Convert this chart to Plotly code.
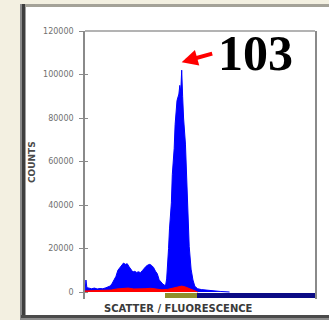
import plotly.graph_objects as go

# Histogram of channel counts (scatter / fluorescence)
blue_channels = [0, 1, 2, 4, 7, 10, 13, 16, 19, 22, 25, 27, 29, 31, 33, 35, 37, 39, 41, 43,
                 45, 47, 49, 51, 53, 55, 57, 59, 61, 63, 65, 67, 69, 71, 73, 75, 77, 79, 81, 83,
                 85, 86, 87, 88, 89, 90, 92, 93, 95, 96, 98, 100, 101, 102, 103, 104, 105, 107,
                 108, 110, 111, 113, 115, 117, 120, 124, 128, 135, 144, 154]
blue_counts = [0, 5500, 2000, 1700, 1500, 1800, 1400, 1600, 1500, 1900, 2300, 2800, 4000, 5600,
               7200, 10000, 11200, 12600, 13300, 12700, 13000, 11600, 10200, 9200, 9500, 9000,
               9300, 8900, 9800, 10900, 11800, 12400, 12700, 12200, 11300, 9600, 8400, 5600,
               4400, 3600, 3100, 3400, 6000, 12000, 20000, 29000, 41000, 54000, 66000, 77000,
               88000, 91000, 95000, 92000, 102000, 90000, 80000, 68000, 55000, 38000, 21000,
               10500, 5500, 2600, 1500, 1100, 900, 500, 250, 0]

red_channels = [0, 10, 20, 28, 34, 40, 46, 52, 58, 64, 70, 76, 82, 88, 94, 100, 103, 107, 112, 116, 120]
red_counts = [500, 600, 700, 900, 1400, 1700, 1800, 1400, 1300, 1500, 1700, 1500, 1000, 1200,
              1900, 2500, 2700, 2300, 1300, 600, 0]

# Gate regions below the baseline
gate_start = [85, 119]
gate_end = [119, 246]
gate_colors = ["#8f8f2a", "#0b0b85"]
gate_base = -2700
gate_height = 2400

peak_channel = 103
peak_label = "103"
y_ticks = [0, 20000, 40000, 60000, 80000, 100000, 120000]

W, H = 329, 320
ML, MR, MT, MB = 85, 14, 31, 21
PW, PH = W - ML - MR, H - MT - MB


def px(x):
    return (x - ML) / PW


def py(y):
    return (H - MB - y) / PH


peak_count = blue_counts[blue_channels.index(peak_channel)]

fig = go.Figure()
fig.add_trace(go.Scatter(x=blue_channels, y=blue_counts, mode="lines", fill="tozeroy",
                         line=dict(color="#0000ff", width=1), fillcolor="#0000ff",
                         hoverinfo="skip"))
fig.add_trace(go.Scatter(x=red_channels, y=red_counts, mode="lines", fill="tozeroy",
                         line=dict(color="#ff0000", width=1), fillcolor="#ff0000",
                         hoverinfo="skip"))
fig.add_trace(go.Bar(x=[(s + e) / 2 for s, e in zip(gate_start, gate_end)],
                     width=[e - s for s, e in zip(gate_start, gate_end)],
                     y=[gate_height] * len(gate_start), base=[gate_base] * len(gate_start),
                     marker=dict(color=gate_colors, line=dict(width=0)), hoverinfo="skip"))
# invisible trace carrying the inner tick marks
fig.add_trace(go.Scatter(x=[0], y=[0], yaxis="y2", mode="markers",
                         marker=dict(opacity=0), hoverinfo="skip"))

axis_grey = "#8a8a8a"
fig.update_layout(
    width=W, height=H, showlegend=False,
    margin=dict(l=ML, r=MR, t=MT, b=MB),
    paper_bgcolor="white", plot_bgcolor="white",
    xaxis=dict(range=[0, 245], showticklabels=False, showgrid=False, zeroline=False,
               showline=False, ticks=""),
    yaxis=dict(range=[-3220, 120000], tickvals=y_ticks,
               ticktext=[str(v) for v in y_ticks], showgrid=False, zeroline=False,
               showline=True, mirror=True, linecolor=axis_grey, linewidth=1.5,
               ticks="outside", ticklen=4, tickwidth=1, tickcolor=axis_grey,
               ticklabelstandoff=4,
               tickfont=dict(family="DejaVu Sans", size=8, color="#707070")),
    yaxis2=dict(range=[-3220, 120000], overlaying="y", tickvals=y_ticks[:-1],
                showticklabels=False, showgrid=False, zeroline=False, showline=False,
                ticks="inside", ticklen=3, tickwidth=1, tickcolor=axis_grey),
    bargap=0,
)

# window frame around the chart
frame = [
    (0, 20, 0, 320, "#f3f0e1"),
    (0, 329, 0, 4, "#f3f0e1"),
    (21, 329, 4, 7, "#a4a298"),
    (20, 22, 4, 320, "#8a8a8a"),
    (22, 25, 4, 320, "#3e3e3e"),
    (25, 26, 7, 320, "#a0a0a0"),
    (21, 329, 315, 318, "#4a4a4a"),
    (21, 329, 318, 320, "#8c8c8c"),
]
for x0, x1, y0, y1, c in frame:
    fig.add_shape(type="rect", xref="paper", yref="paper", x0=px(x0), x1=px(x1),
                  y0=py(y1), y1=py(y0), fillcolor=c, line=dict(width=0), layer="above")

# top border of the plot area
fig.add_shape(type="line", xref="paper", yref="paper", x0=0, x1=1, y0=1, y1=1,
              line=dict(color="#9a9a9a", width=1.5))

fig.add_annotation(text="<b>COUNTS</b>", xref="paper", yref="paper", x=px(32), y=py(162),
                   xanchor="center", yanchor="middle", textangle=-90, showarrow=False,
                   font=dict(family="DejaVu Sans", size=9, color="#4a4a4a"))
fig.add_annotation(text="<b>SCATTER / FLUORESCENCE</b>", xref="paper", yref="paper",
                   x=px(178.5), y=py(308.5), xanchor="center", yanchor="middle",
                   showarrow=False,
                   font=dict(family="DejaVu Sans", size=10, color="#3a3a3a"))

# peak marker
fig.add_annotation(x=peak_channel, y=peak_count, xref="x", yref="y", text="",
                   showarrow=True, arrowhead=2, arrowsize=0.8, arrowwidth=4,
                   arrowcolor="#ff0000", ax=32, ay=-9, yshift=8)
fig.add_annotation(x=peak_channel, y=peak_count, xref="x", yref="y",
                   text=f"<b>{peak_label}</b>", showarrow=False, xshift=74, yshift=17,
                   xanchor="center", yanchor="middle",
                   font=dict(family="Liberation Serif", size=50, color="#000000"))

fig.write_html("out.html")
